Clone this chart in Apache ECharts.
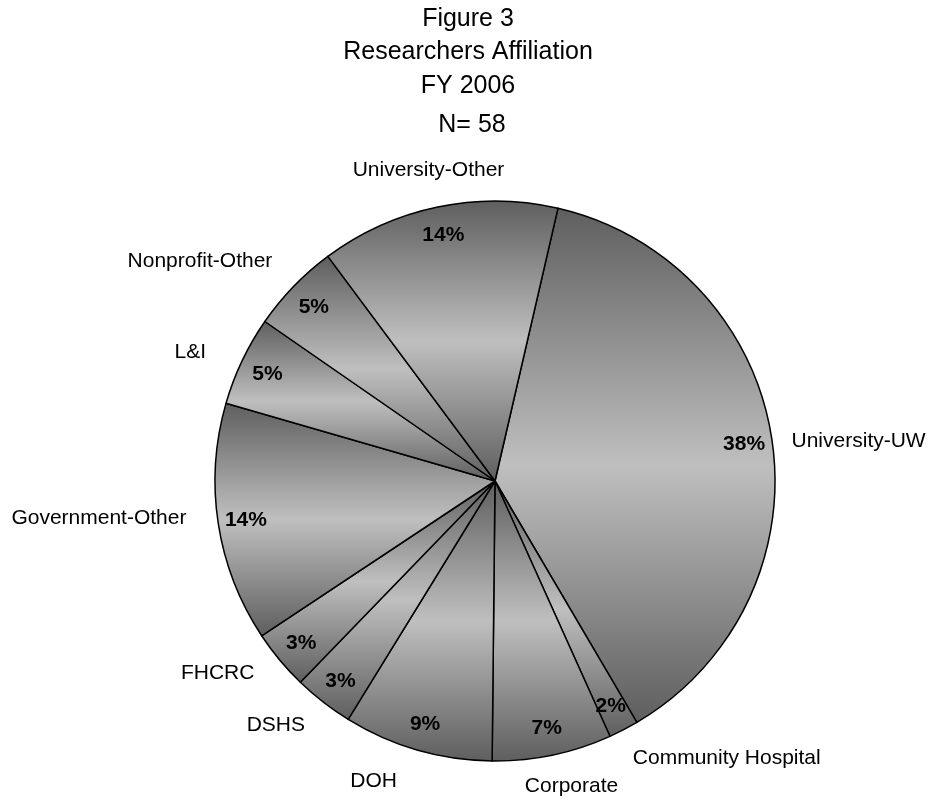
<!DOCTYPE html>
<html>
<head>
<meta charset="utf-8">
<script src="https://cdn.jsdelivr.net/npm/echarts@6/dist/echarts.min.js"></script>
<style>
html,body{margin:0;padding:0;background:#fff;}
#chart{width:928px;height:800px;}
</style>
</head>
<body>
<div id="chart"></div>
<script>
const categories = ['University-UW','Community Hospital','Corporate','DOH','DSHS','FHCRC','Government-Other','L&I','Nonprofit-Other','University-Other'];
const counts = [22, 1, 4, 5, 2, 2, 8, 3, 3, 8];
const titleLines = ['Figure 3', 'Researchers Affiliation', 'FY 2006'];
const nText = 'N= 58';

const total = counts.reduce((a, b) => a + b, 0);
const CX = 495, CY = 481, R = 280;
const START_FROM_TOP = 13; // degrees clockwise from 12 o'clock
const font = 'Liberation Sans, Arial, sans-serif';

// small manual placement tweaks of outer name labels (as placed in the original)
const labelNudge = {
  'University-UW': [0, 6],
  'Corporate': [15, 1],
  'DOH': [-35, 1],
  'DSHS': [-6, -3],
  'FHCRC': [-10, -10],
  'Government-Other': [-12, -8],
  'L&I': [-18, 9],
  'Nonprofit-Other': [-7, -1],
  'University-Other': [-5, -7]
};

const grad = {
  type: 'linear', x: 0, y: 0, x2: 0, y2: 1,
  colorStops: [
    { offset: 0, color: '#5e5e5e' },
    { offset: 0.5, color: '#bfbfbf' },
    { offset: 1, color: '#5e5e5e' }
  ]
};
const data = categories.map((c, i) => ({ name: c, value: counts[i] }));

// mid angles (clockwise from top, degrees) derived from the data
const midAngles = [];
{
  let acc = START_FROM_TOP;
  counts.forEach(v => {
    const span = v / total * 360;
    midAngles.push(acc + span / 2);
    acc += span;
  });
}
const clamp01 = v => Math.max(0, Math.min(1, v));
function nameLayout(params) {
  const th = midAngles[params.dataIndex] * Math.PI / 180;
  const ux = Math.sin(th), uy = -Math.cos(th);
  const d = R + 20;
  const px = CX + d * ux, py = CY + d * uy;
  const w = params.labelRect.width, h = params.labelRect.height;
  const fx = Math.sign(ux) * clamp01((Math.abs(ux) - 0.25) / 0.2);
  const fy = Math.sign(uy) * clamp01((Math.abs(uy) - 0.25) / 0.2);
  const nd = labelNudge[categories[params.dataIndex]] || [0, 0];
  return {
    x: px + fx * w / 2 + nd[0],
    y: py + fy * h / 2 + nd[1],
    align: 'center',
    verticalAlign: 'middle'
  };
}

const chart = echarts.init(document.getElementById('chart'), null, { renderer: 'canvas' });
chart.setOption({
  backgroundColor: '#fff',
  animation: false,
  title: [
    {
      text: titleLines.join('\n'),
      left: 468, top: 2, textAlign: 'center', padding: 0,
      textStyle: { fontFamily: font, fontSize: 25, fontWeight: 'normal', color: '#000', lineHeight: 33.5 }
    },
    {
      text: nText,
      left: 472, top: 108, textAlign: 'center', padding: 0,
      textStyle: { fontFamily: font, fontSize: 25, fontWeight: 'normal', color: '#000', lineHeight: 33.5 }
    }
  ],
  series: [
    {
      type: 'pie',
      center: [CX, CY],
      radius: [0, R],
      startAngle: 90 - START_FROM_TOP,
      clockwise: true,
      avoidLabelOverlap: false,
      data: data,
      itemStyle: { color: grad, borderColor: '#000', borderWidth: 1.5 },
      label: {
        show: true, position: 'outside', formatter: '{b}',
        fontFamily: font, fontSize: 21, color: '#000'
      },
      labelLine: { show: false, length: 20, length2: 0 },
      labelLayout: nameLayout,
      emphasis: { disabled: true }
    },
    {
      type: 'pie',
      center: [CX, CY + 1],
      radius: [218, R],
      startAngle: 90 - START_FROM_TOP,
      clockwise: true,
      silent: true,
      data: data,
      itemStyle: { color: 'rgba(0,0,0,0)', borderWidth: 0 },
      label: {
        show: true, position: 'inside',
        formatter: p => Math.round(p.value / total * 100) + '%',
        fontFamily: font, fontSize: 21, fontWeight: 'bold', color: '#000'
      },
      labelLine: { show: false },
      emphasis: { disabled: true }
    }
  ]
});
</script>
</body>
</html>
